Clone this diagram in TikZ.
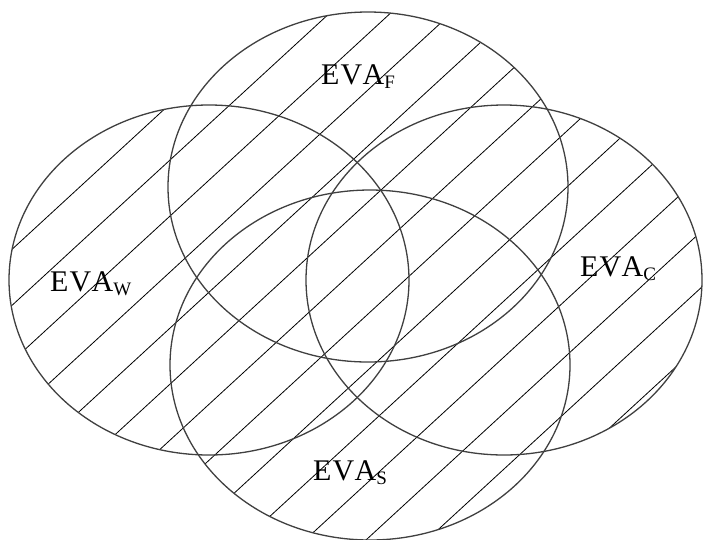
\documentclass[tikz,border=0pt]{standalone}
\usepackage{fontspec}
\setmainfont{Liberation Serif}
\tikzset{
  venn/.style={draw=black!75, line width=1.3pt},
  hatch/.style={draw=black, line width=0.8pt},
  lbl/.style={inner sep=0pt, anchor=base west, font=\fontsize{30}{30}\selectfont}
}
\newcommand{\evatxt}[1]{E\kern1pt V\kern0.5pt A\kern0pt\raisebox{-4pt}{\fontsize{19}{19}\selectfont #1}}
\begin{document}
\begin{tikzpicture}[x=1pt,y=-1pt]
\useasboundingbox (0,0) rectangle (703,539);
\fill[white] (0,0) rectangle (703,539);
\begin{scope}
  \clip (368,187) ellipse [x radius=200, y radius=175]
        (209,280) ellipse [x radius=200, y radius=175]
        (504,280) ellipse [x radius=198, y radius=175]
        (370,365) ellipse [x radius=200, y radius=175];
  \foreach \k in {-12,...,12} {
    \pgfmathsetmacro{\xo}{45+60.9*\k}
    \draw[hatch] ({\xo-700},{275+700*0.92}) -- ({\xo+700},{275-700*0.92});
  }
\end{scope}
\draw[venn] (368,187) ellipse [x radius=200, y radius=175];
\draw[venn] (209,280) ellipse [x radius=200, y radius=175];
\draw[venn] (504,280) ellipse [x radius=198, y radius=175];
\draw[venn] (370,365) ellipse [x radius=200, y radius=175];
\node[lbl] (lf) at (321,84) {\evatxt{F}};
\node[lbl] (lw) at (50,291) {\evatxt{W}};
\node[lbl] (lc) at (580,276) {\evatxt{C}};
\node[lbl] (ls) at (313,480) {\evatxt{S}};
\end{tikzpicture}
\end{document}
